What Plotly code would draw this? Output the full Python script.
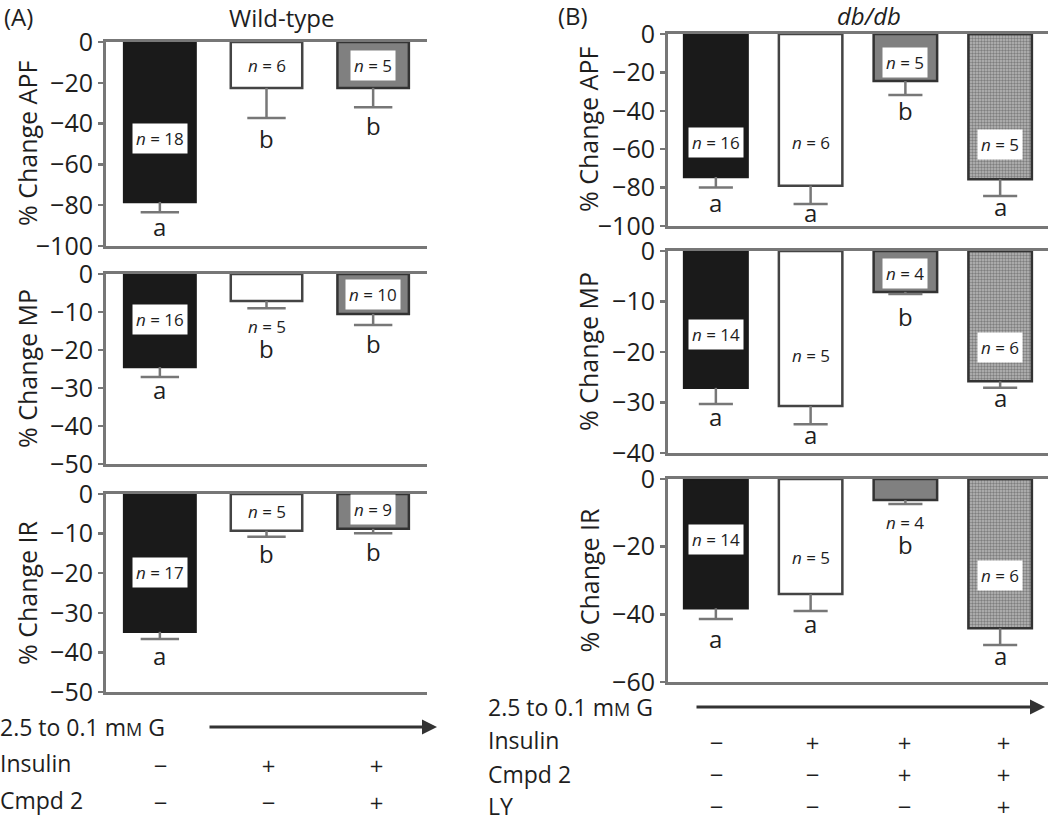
import plotly.graph_objects as go

# ---------------- data ----------------
wt_conditions = ["Control", "Insulin", "Insulin + Cmpd 2"]
db_conditions = ["Control", "Insulin", "Insulin + Cmpd 2", "Insulin + Cmpd 2 + LY"]

wt_apf = [-78.4, -22.5, -22.5]
wt_apf_err = [5.0, 14.8, 9.5]
wt_mp = [-24.5, -7.1, -10.5]
wt_mp_err = [2.6, 1.9, 2.9]
wt_ir = [-34.8, -9.3, -8.8]
wt_ir_err = [1.8, 1.5, 1.1]

db_apf = [-74.5, -79.0, -24.5, -75.6]
db_apf_err = [5.5, 9.5, 7.3, 8.8]
db_mp = [-27.1, -30.7, -8.1, -25.8]
db_mp_err = [3.2, 3.6, 0.4, 1.3]
db_ir = [-38.2, -34.0, -6.2, -44.1]
db_ir_err = [3.2, 5.0, 1.2, 5.0]

wt_apf_n = [18, 6, 5]
wt_mp_n = [16, 5, 10]
wt_ir_n = [17, 5, 9]
db_apf_n = [16, 6, 5, 5]
db_mp_n = [14, 5, 4, 6]
db_ir_n = [14, 5, 4, 6]

wt_apf_sig = ["a", "b", "b"]
wt_mp_sig = ["a", "b", "b"]
wt_ir_sig = ["a", "b", "b"]
db_apf_sig = ["a", "a", "b", "a"]
db_mp_sig = ["a", "a", "b", "a"]
db_ir_sig = ["a", "a", "b", "a"]

MINUS = "\u2212"
wt_insulin = [MINUS, "+", "+"]
wt_cmpd2 = [MINUS, MINUS, "+"]
db_insulin = [MINUS, "+", "+", "+"]
db_cmpd2 = [MINUS, MINUS, "+", "+"]
db_ly = [MINUS, MINUS, MINUS, "+"]

# ---------------- layout helpers (label placement, in axis units) ----------------
wt_apf_nlab_y = [-47.1, -11.3, -11.3]
wt_apf_sig_y = [-90.2, -47.1, -40.7]
wt_mp_nlab_y = [-12.1, -13.9, -5.5]
wt_mp_sig_y = [-30.5, -19.5, -18.2]
wt_ir_nlab_y = [-19.9, -4.5, -4.0]
wt_ir_sig_y = [-40.9, -14.9, -14.4]
db_apf_nlab_y = [-56.3, -56.3, -15.1, -57.8]
db_apf_sig_y = [-88.0, -93.2, -40.1, -89.6]
db_mp_nlab_y = [-16.6, -20.6, -4.4, -19.2]
db_mp_sig_y = [-32.7, -36.4, -12.9, -29.1]
db_ir_nlab_y = [-17.8, -23.1, -13.0, -28.4]
db_ir_sig_y = [-47.0, -42.6, -19.5, -52.1]

W, H = 1050, 815
AX = "#777777"
TXT = "#1e1e1e"
FONT = "Open Sans"
SIGNFONT = "DejaVu Sans"

fills = ["#1a1a1a", "#ffffff", "#808080", "#b8b8b8"]
outlines = ["#1a1a1a", "#444444", "#333333", "#333333"]
patterns = ["", "", "", "."]

wt_xdom = [106 / W, 427 / W]
db_xdom = [668 / W, 1048 / W]


def ydom(top_px, bot_px):
    return [1 - bot_px / H, 1 - top_px / H]


panels = [
    dict(cond=wt_conditions, v=wt_apf, e=wt_apf_err, n=wt_apf_n, s=wt_apf_sig,
         ny=wt_apf_nlab_y, sy=wt_apf_sig_y, xd=wt_xdom, yd=ydom(42, 246),
         rng=[-100, 0], dt=20, title="% Change APF", tx=27),
    dict(cond=wt_conditions, v=wt_mp, e=wt_mp_err, n=wt_mp_n, s=wt_mp_sig,
         ny=wt_mp_nlab_y, sy=wt_mp_sig_y, xd=wt_xdom, yd=ydom(274, 464),
         rng=[-50, 0], dt=10, title="% Change MP", tx=27),
    dict(cond=wt_conditions, v=wt_ir, e=wt_ir_err, n=wt_ir_n, s=wt_ir_sig,
         ny=wt_ir_nlab_y, sy=wt_ir_sig_y, xd=wt_xdom, yd=ydom(494, 692),
         rng=[-50, 0], dt=10, title="% Change IR", tx=27),
    dict(cond=db_conditions, v=db_apf, e=db_apf_err, n=db_apf_n, s=db_apf_sig,
         ny=db_apf_nlab_y, sy=db_apf_sig_y, xd=db_xdom, yd=ydom(34, 226),
         rng=[-100, 0], dt=20, title="% Change APF", tx=588),
    dict(cond=db_conditions, v=db_mp, e=db_mp_err, n=db_mp_n, s=db_mp_sig,
         ny=db_mp_nlab_y, sy=db_mp_sig_y, xd=db_xdom, yd=ydom(251, 453),
         rng=[-40, 0], dt=10, title="% Change MP", tx=588),
    dict(cond=db_conditions, v=db_ir, e=db_ir_err, n=db_ir_n, s=db_ir_sig,
         ny=db_ir_nlab_y, sy=db_ir_sig_y, xd=db_xdom, yd=ydom(479, 682),
         rng=[-60, 0], dt=20, title="% Change IR", tx=588),
]

fig = go.Figure()
annotations = []
layout_axes = {}
CAP = 0.18

for k, p in enumerate(panels, start=1):
    xa = "x" if k == 1 else f"x{k}"
    ya = "y" if k == 1 else f"y{k}"
    m = len(p["cond"])
    xs = list(range(m))
    fig.add_trace(go.Bar(
        x=xs, y=p["v"], width=0.67, xaxis=xa, yaxis=ya,
        marker=dict(color=fills[:m],
                    line=dict(color=outlines[:m], width=2.5),
                    pattern=dict(shape=patterns[:m], fgcolor="#808080",
                                 bgcolor="#bcbcbc", size=3, solidity=0.5)),
        showlegend=False, hoverinfo="skip"))
    # one-sided (downward) error bars
    ex, ey = [], []
    for i, (val, err) in enumerate(zip(p["v"], p["e"])):
        ex += [i, i, None, i - CAP, i + CAP, None]
        ey += [val, val - err, None, val - err, val - err, None]
    fig.add_trace(go.Scatter(x=ex, y=ey, mode="lines", xaxis=xa, yaxis=ya,
                             line=dict(color=AX, width=2.5),
                             showlegend=False, hoverinfo="skip"))
    for i in range(m):
        annotations.append(dict(
            x=i, y=p["ny"][i], xref=xa, yref=ya, showarrow=False,
            xanchor="center", yanchor="middle",
            text=f"<i>n</i> = {p['n'][i]}", bgcolor="#ffffff", borderpad=3,
            font=dict(family=FONT, size=17, color=TXT)))
        annotations.append(dict(
            x=i, y=p["sy"][i], xref=xa, yref=ya, showarrow=False,
            xanchor="center", yanchor="middle",
            text=p["s"][i], font=dict(family=FONT, size=24, color=TXT)))
    annotations.append(dict(
        x=p["tx"] / W, y=sum(p["yd"]) / 2, xref="paper", yref="paper",
        xanchor="center", yanchor="middle",
        showarrow=False, textangle=-90, text=p["title"],
        font=dict(family=FONT, size=25, color=TXT)))
    xkey = "xaxis" if k == 1 else f"xaxis{k}"
    ykey = "yaxis" if k == 1 else f"yaxis{k}"
    layout_axes[xkey] = dict(
        domain=p["xd"], anchor=ya, range=[-0.505, m - 0.495], automargin=False,
        showticklabels=False, ticks="", showgrid=False, zeroline=False,
        showline=True, linecolor=AX, linewidth=3, mirror=True)
    layout_axes[ykey] = dict(
        domain=p["yd"], anchor=xa, range=p["rng"], dtick=p["dt"], automargin=False,
        ticks="outside", ticklen=5, tickwidth=2.5, tickcolor=AX,
        showgrid=False, zeroline=False, showline=True, linecolor=AX, linewidth=3,
        tickfont=dict(family=FONT, size=25, color=TXT))

mm = "m<span style='font-size:18px'>M</span>"


def txt(x, y, s, anchor="left", size=23, italic=False, family=FONT):
    annotations.append(dict(
        x=x / W, y=1 - y / H, xref="paper", yref="paper", showarrow=False,
        xanchor=anchor, yanchor="middle",
        text=f"<i>{s}</i>" if italic else s,
        font=dict(family=family, size=size, color=TXT)))


# panel titles
txt(2, 17, "(A)", size=24)
txt(281, 18, "Wild-type", anchor="center", size=24)
txt(556, 16, "(B)", size=24)
txt(869, 16, "db/db", anchor="center", size=24, italic=True)

# treatment rows, wild-type
txt(-2, 727, f"2.5 to 0.1 {mm} G")
txt(-2, 763, "Insulin")
txt(-2, 800, "Cmpd 2")
wt_cols = [160, 268, 376]
for i in range(len(wt_conditions)):
    txt(wt_cols[i], 765, wt_insulin[i], anchor="center", size=18, family=SIGNFONT)
    txt(wt_cols[i], 802, wt_cmpd2[i], anchor="center", size=18, family=SIGNFONT)

# treatment rows, db/db
txt(486, 707, f"2.5 to 0.1 {mm} G")
txt(486, 740, "Insulin")
txt(486, 774, "Cmpd 2")
txt(486, 806, "LY")
db_cols = [716, 812, 904, 1003]
for i in range(len(db_conditions)):
    txt(db_cols[i], 742, db_insulin[i], anchor="center", size=18, family=SIGNFONT)
    txt(db_cols[i], 774, db_cmpd2[i], anchor="center", size=18, family=SIGNFONT)
    txt(db_cols[i], 806, db_ly[i], anchor="center", size=18, family=SIGNFONT)

# glucose arrows
for x0, x1, yy in [(208, 437, 727), (695, 1045, 707)]:
    annotations.append(dict(
        x=x1 / W, y=1 - yy / H, ax=-(x1 - x0), ay=0,
        xref="paper", yref="paper", axref="pixel", ayref="pixel",
        xanchor="center", yanchor="middle",
        showarrow=True, arrowhead=2, arrowsize=1, arrowwidth=3,
        arrowcolor="#333333", text=""))

fig.update_layout(
    width=W, height=H, margin=dict(l=0, r=0, t=0, b=0, autoexpand=False),
    paper_bgcolor="white", plot_bgcolor="white", barmode="overlay",
    annotations=annotations, font=dict(family=FONT, color=TXT),
    **layout_axes)

fig.write_html("out.html",
               config={"displayModeBar": False, "staticPlot": True},
               post_script="document.body.style.margin='0';"
                           "document.body.style.overflow='hidden';")
